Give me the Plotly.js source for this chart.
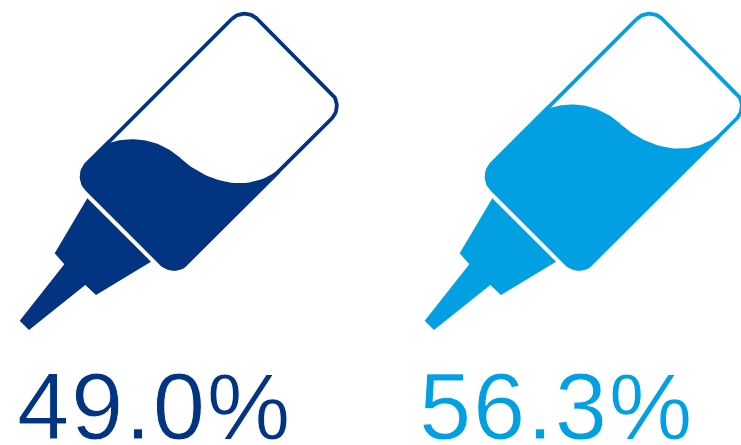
<!DOCTYPE html>
<html>
<head>
<meta charset="utf-8">
<script src="https://cdn.plot.ly/plotly-3.0.0.min.js"></script>
<style>
html,body{margin:0;padding:0;background:#fff;overflow:hidden}
#chart{width:741px;height:445px}
/* lighter, slightly open numerals */
#chart .textpoint text{letter-spacing:1.7px;stroke:#fff;stroke-width:0.9px}
</style>
</head>
<body>
<div id="chart"></div>
<script>
// Share of each group, shown as the liquid level in a tilted glue bottle
const values = [49.0, 56.3];
const colors = ['#033482', '#02a0e3'];
const iconShiftX = [0, 405];
const labelX = [154.5, 556.5];

// Bottle template in plot units
const nozzleX = [87.3, 151, 96, 85.3, 29, 19.7, 64.3, 54.7];
const nozzleY = [198.3, 261.7, 295, 285, 330, 320.7, 264.3, 253.3];
const waveKnots = [
  [[110, 142.7], [133, 135], [161, 139.5], [181.7, 159.3]],
  [[181.7, 159.3], [201, 177], [243, 197], [278, 170]]
];
const bodyU = [-74.2, 170.4];   // along the bottle axis
const bodyW = [175.4, 320.3];   // across the bottle axis
const cornerRadius = 20;
const strokeWidth = 3.8;

const R2 = Math.SQRT2;
const toXY = (u, w) => [(u + w) / R2, (w - u) / R2];
const toUW = (x, y) => [(x - y) / R2, (x + y) / R2];

// Corner arc between two angles, sampled, in the rotated (u, w) frame
function arc(cu, cw, r, a0, a1) {
  const pts = [];
  for (let i = 0; i <= 16; i++) {
    const a = (a0 + (a1 - a0) * i / 16) * Math.PI / 180;
    pts.push([cu + r * Math.cos(a), cw + r * Math.sin(a)]);
  }
  return pts;
}

// Closed rounded rectangle, inset by d from the outer edge
function bodyOutline(d) {
  const [u0, u1] = [bodyU[0] + d, bodyU[1] - d];
  const [w0, w1] = [bodyW[0] + d, bodyW[1] - d];
  const r = cornerRadius - d;
  return [
    ...arc(u1 - r, w0 + r, r, -90, 0),
    ...arc(u1 - r, w1 - r, r, 0, 90),
    ...arc(u0 + r, w1 - r, r, 90, 180),
    ...arc(u0 + r, w0 + r, r, 180, 270)
  ];
}

function bezier(seg) {
  const pts = [];
  for (let i = 0; i <= 30; i++) {
    const t = i / 30, m = 1 - t;
    pts.push([0, 1].map(k => m*m*m*seg[0][k] + 3*m*m*t*seg[1][k] + 3*m*t*t*seg[2][k] + t*t*t*seg[3][k]));
  }
  return pts;
}

// The level moves along the bottle axis with the value
const levelOffset = v => (v - values[0]) * 6.7;

function bottleTraces(value, color, dx) {
  const off = levelOffset(value);
  const wave = waveKnots.flatMap(bezier).map(([x, y]) => {
    const [u, w] = toUW(x, y);
    return [u + off, w];
  });
  const first = wave[0], last = wave[wave.length - 1];
  const [u0, u1] = bodyU, [w0, w1] = bodyW, r = cornerRadius;
  // Liquid: wave on top, lower end of the bottle beneath it
  const liquid = [
    ...wave,
    [last[0], w1],
    ...arc(u0 + r, w1 - r, r, 90, 180),
    ...arc(u0 + r, w0 + r, r, 180, 270),
    [first[0], w0]
  ].map(p => toXY(p[0], p[1]));
  const outline = bodyOutline(strokeWidth / 2);
  outline.push(outline[0]);
  const line = outline.map(p => toXY(p[0], p[1]));
  const base = {type: 'scatter', mode: 'lines', hoverinfo: 'skip', showlegend: false};
  return [
    {...base, x: [...nozzleX, nozzleX[0]].map(x => x + dx), y: [...nozzleY, nozzleY[0]],
     fill: 'toself', fillcolor: color, line: {width: 0, color}},
    {...base, x: liquid.map(p => p[0] + dx), y: liquid.map(p => p[1]),
     fill: 'toself', fillcolor: color, line: {width: 0, color}},
    {...base, x: line.map(p => p[0] + dx), y: line.map(p => p[1]),
     line: {width: strokeWidth, color}}
  ];
}

const traces = values.flatMap((v, i) => bottleTraces(v, colors[i], iconShiftX[i]));
traces.push({
  type: 'scatter', mode: 'text', hoverinfo: 'skip', showlegend: false,
  x: labelX, y: [415, 415],
  text: values.map(v => v.toFixed(1) + '%'),
  textposition: 'middle center',
  textfont: {family: '"Liberation Sans", Arial, sans-serif', size: 94, color: colors}
});

Plotly.newPlot('chart', traces, {
  width: 741, height: 445,
  margin: {l: 0, r: 0, t: 0, b: 0},
  paper_bgcolor: '#fff', plot_bgcolor: '#fff',
  xaxis: {range: [0, 741], visible: false, fixedrange: true},
  yaxis: {range: [445, 0], visible: false, fixedrange: true},
  showlegend: false
}, {displayModeBar: false, staticPlot: true});
</script>
</body>
</html>
